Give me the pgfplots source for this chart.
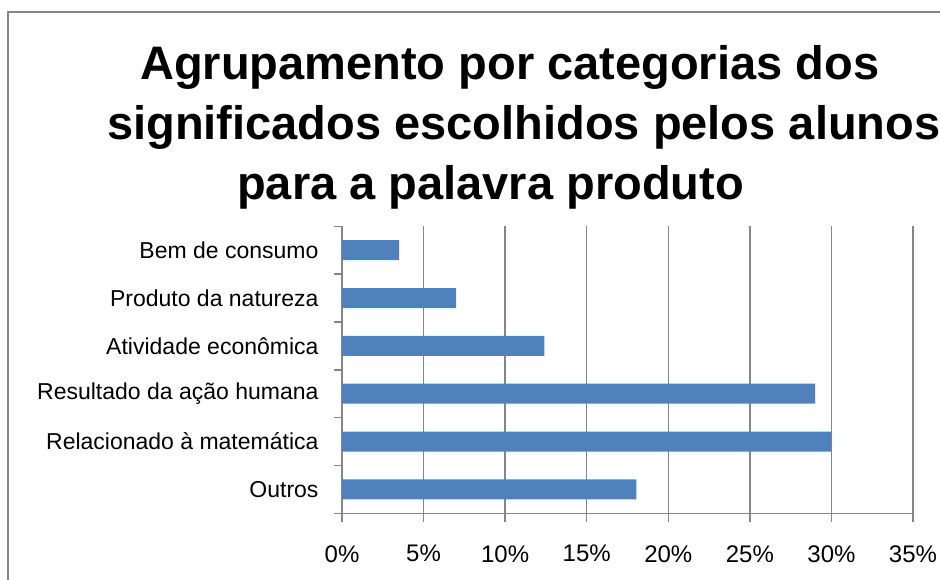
\documentclass[border=0pt]{standalone}
\usepackage{pgfplots}
\pgfplotsset{compat=1.18}
\usepackage{fontspec}
\setmainfont{Liberation Sans}
\definecolor{barblue}{RGB}{79,129,189}
\definecolor{gridgray}{RGB}{134,134,134}
\begin{document}
\begin{tikzpicture}[x=1bp,y=1bp]
\useasboundingbox (0,0) rectangle (940,580);
\draw[gridgray, line width=2bp] (8,-5) -- (8,568) -- (945,568);
\node[anchor=base west, inner sep=0, font=\fontsize{47bp}{56bp}\selectfont\bfseries] at (140,500) {Agrupamento por categorias dos};
\node[anchor=base west, inner sep=0, font=\fontsize{47bp}{56bp}\selectfont\bfseries] at (107,440) {significados escolhidos pelos alunos};
\node[anchor=base west, inner sep=0, font=\fontsize{47bp}{56bp}\selectfont\bfseries] at (237,380) {para a palavra produto};
\begin{axis}[
  at={(342bp,66.7bp)}, anchor=south west,
  width=571bp, height=287bp, scale only axis,
  xbar, bar width=20bp,
  xmin=0, xmax=35, ymin=-0.5, ymax=5.5,
  axis x line*=bottom, axis y line*=left,
  axis line style={gridgray, line width=1.5bp},
  xmajorgrids, grid style={gridgray, line width=1.5bp},
  tick align=outside,
  major tick length=8.5bp,
  tick style={gridgray, line width=1.5bp},
  xtick={0,5,...,35},
  xticklabel={\pgfmathprintnumber{\tick}\%},
  /pgf/number format/assume math mode=true,
  xticklabel style={font=\fontsize{24bp}{28bp}\selectfont, text=black, yshift=-20bp},
  ytick={-0.5,0.5,...,5.5},
  yticklabels={,,,,,,,},
  extra y ticks={0,1,2,3,4,5},
  extra y tick labels={Outros, Relacionado à matemática, Resultado da ação humana, Atividade econômica, Produto da natureza, Bem de consumo},
  extra y tick style={major tick length=0pt, yticklabel style={font=\fontsize{23bp}{27bp}\selectfont, text=black, anchor=east, xshift=-20bp}},
]
\addplot[fill=barblue, draw=none] coordinates {(18.05,0) (30,1) (29,2) (12.4,3) (7,4) (3.5,5)};
\end{axis}
\end{tikzpicture}
\end{document}
